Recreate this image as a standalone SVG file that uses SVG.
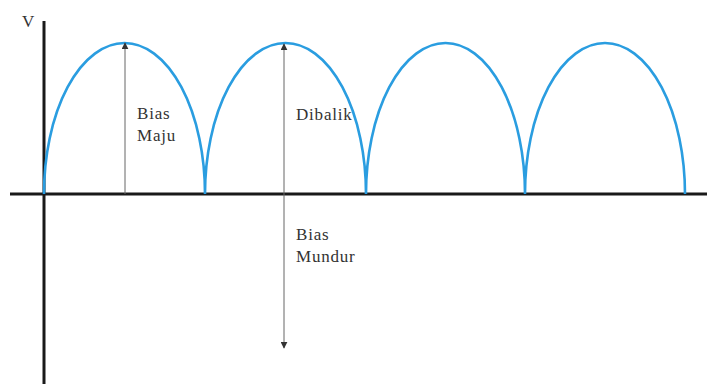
<svg xmlns="http://www.w3.org/2000/svg" width="707" height="384" viewBox="0 0 707 384">
<style>
.axis{stroke:#1a1a1a;stroke-width:3;fill:none}
.wave{stroke:#2a9de0;stroke-width:2.6;fill:none}
.arr{stroke:#666;stroke-width:1;fill:none}
.t{font-family:"Liberation Serif","DejaVu Serif",serif;font-size:17px;letter-spacing:0.8px;fill:#333}
</style>
<defs>
<marker id="ah" viewBox="0 0 10 10" refX="9" refY="5" markerWidth="7" markerHeight="7" orient="auto" markerUnits="userSpaceOnUse">
<path d="M0,0 L10,5 L0,10 Z" fill="#333"/>
</marker>
</defs>
<g id="axes">
<line class="axis" x1="44" y1="21" x2="44" y2="384"/>
<line class="axis" x1="10" y1="194" x2="707" y2="194"/>
<text class="t" x="22" y="27">V</text>
</g>
<g id="wave">
<path class="wave" d="M44,194 A80.5,151 0 0 1 205,194 A80.5,151 0 0 1 366,194 A79.5,151 0 0 1 525,194 A80,151 0 0 1 685,194"/>
</g>
<g id="connectors">
<line class="arr" x1="125" y1="194" x2="125" y2="43" marker-end="url(#ah)"/>
<line class="arr" x1="284" y1="194" x2="284" y2="44" marker-end="url(#ah)"/>
<line class="arr" x1="284" y1="194" x2="284" y2="348" marker-end="url(#ah)"/>
</g>
<g id="label-maju">
<text class="t" x="137" y="119">Bias</text>
<text class="t" x="137" y="141">Maju</text>
</g>
<g id="label-dibalik">
<text class="t" x="296" y="120">Dibalik</text>
</g>
<g id="label-mundur">
<text class="t" x="296" y="240">Bias</text>
<text class="t" x="296" y="262">Mundur</text>
</g>
</svg>
